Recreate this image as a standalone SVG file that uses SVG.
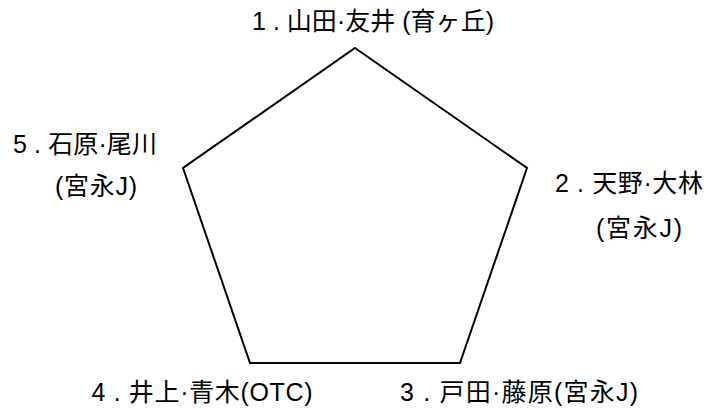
<svg xmlns="http://www.w3.org/2000/svg" width="706" height="410" viewBox="0 0 706 410">
<style>
text{font-family:"Liberation Sans","Noto Sans CJK JP",sans-serif;font-size:25px;fill:#000;text-anchor:middle}
.shape{fill:#fff;stroke:#000;stroke-width:2;stroke-linejoin:miter}
</style>
<rect width="706" height="410" fill="#fff"/>
<g id="connectors">
<polygon class="shape" points="355,48 527,168 460,363 250,363 183,168"/>
</g>
<g id="n1"><text x="373" y="30" textLength="242" lengthAdjust="spacing">1 . 山田·友井 (育ヶ丘)</text></g>
<g id="n2"><text x="629" y="192" textLength="148" lengthAdjust="spacing">2 . 天野·大林</text><text x="639" y="237" textLength="86" lengthAdjust="spacing">(宮永J)</text></g>
<g id="n3"><text x="519" y="401" textLength="238" lengthAdjust="spacing">3 . 戸田·藤原(宮永J)</text></g>
<g id="n4"><text x="202" y="401" textLength="221" lengthAdjust="spacing">4 . 井上·青木(OTC)</text></g>
<g id="n5"><text x="85" y="153" textLength="144" lengthAdjust="spacing">5 . 石原·尾川</text><text x="96" y="195" textLength="82" lengthAdjust="spacing">(宮永J)</text></g>
</svg>
